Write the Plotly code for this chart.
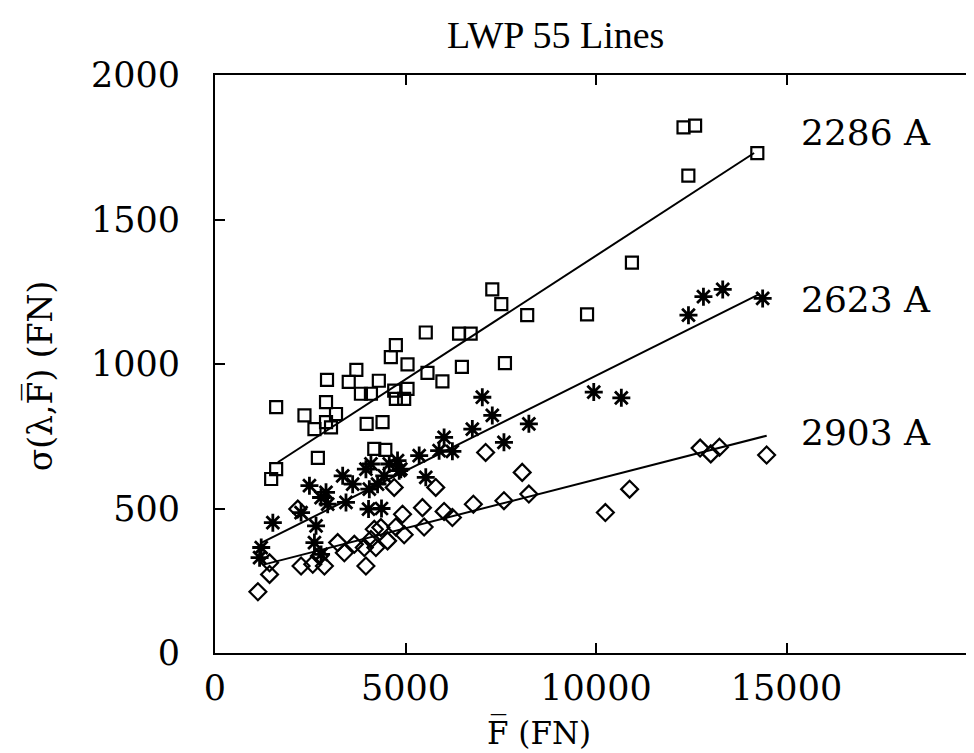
import plotly.graph_objects as go

# ---- data ----
sq_x = [1474, 1605, 1605, 2348, 2610, 2700, 2914, 2914, 3045, 3176, 2940, 3510, 3710, 3830, 4093,
        4300, 3980, 4398, 4180, 4470, 4704, 5053, 4747, 4965, 4747, 4615, 5053, 5577, 5969, 6480,
        7610, 5532, 6406, 6710, 7278, 7514, 8194, 9765, 10943, 12297, 12601, 12424, 14234]
sq_y = [602, 636, 851, 822, 775, 675, 868, 799, 781, 827, 945, 938, 980, 897, 897,
        942, 793, 799, 706, 703, 908, 914, 879, 879, 1065, 1024, 999, 969, 940, 990,
        1003, 1109, 1105, 1105, 1258, 1207, 1169, 1172, 1351, 1819, 1825, 1652, 1730]

st_x = [1213, 1170, 1518, 2259, 2479, 2652, 2610, 2784, 2784, 2914, 2958, 3351, 3438, 3613, 3961,
        4050, 4030, 4370, 4093, 4442, 4267, 4791, 4835, 5359, 5882, 6231, 5532, 6013, 6754, 7016,
        7278, 7584, 8238, 9941, 10665, 12427, 12820, 13326, 14374, 4573, 4877]
st_y = [365, 330, 451, 486, 579, 440, 382, 341, 538, 556, 515, 613, 521, 584, 636,
        567, 498, 500, 654, 613, 584, 666, 631, 683, 700, 698, 608, 746, 775, 885,
        822, 729, 793, 903, 883, 1169, 1233, 1258, 1227, 654, 636]

di_x = [1126, 1432, 1432, 2173, 2259, 2566, 2872, 2741, 3220, 3395, 3657, 3919, 3961, 4181, 4223,
        4093, 4529, 4354, 4747, 4965, 5489, 4922, 5445, 6013, 6231, 6781, 7584, 4704, 5794, 7103,
        8063, 8238, 10246, 10882, 12733, 13012, 13239, 14478]
di_y = [212, 272, 312, 498, 301, 307, 301, 336, 382, 347, 376, 365, 301, 428, 365,
        393, 388, 434, 436, 409, 436, 480, 503, 490, 469, 515, 527, 573, 573, 694,
        625, 550, 486, 567, 709, 689, 712, 685]

fit_sq_x = [1650, 14150]
fit_sq_y = [660, 1730]
fit_st_x = [1200, 14300]
fit_st_y = [380, 1243]
fit_di_x = [1250, 14480]
fit_di_y = [305, 752]

labels = ["2286 A", "2623 A", "2903 A"]
label_x = [15315, 15315, 15315]
label_y = [1800, 1222, 764]

x_ticks = [0, 5000, 10000, 15000]
y_ticks = [0, 500, 1000, 1500, 2000]

SERIF = "DejaVu Serif"
fig = go.Figure()

fig.add_trace(go.Scatter(x=sq_x, y=sq_y, mode="markers",
                         marker=dict(symbol="square-open", size=12, color="black",
                                     line=dict(width=2.2, color="black"))))
fig.add_trace(go.Scatter(x=st_x, y=st_y, mode="markers",
                         marker=dict(symbol="asterisk-open", size=15, color="black",
                                     line=dict(width=2.8, color="black"))))
fig.add_trace(go.Scatter(x=di_x, y=di_y, mode="markers",
                         marker=dict(symbol="diamond-open", size=13, color="black",
                                     line=dict(width=2.2, color="black"))))
for fx, fy in [(fit_sq_x, fit_sq_y), (fit_st_x, fit_st_y), (fit_di_x, fit_di_y)]:
    fig.add_trace(go.Scatter(x=fx, y=fy, mode="lines",
                             line=dict(color="black", width=2)))

for t, lx, ly in zip(labels, label_x, label_y):
    fig.add_annotation(x=lx, y=ly, text=t, showarrow=False, xanchor="left", yanchor="middle",
                       font=dict(family=SERIF, size=36, color="black"))

fig.add_annotation(xref="paper", yref="paper", x=0.447, y=1.069, text="LWP 55 Lines",
                   showarrow=False, xanchor="center", yanchor="middle",
                   font=dict(family="Liberation Serif", size=38, color="black"))
fig.add_annotation(xref="paper", yref="paper", x=0.425, y=-0.137, text="F\u0305 (FN)",
                   showarrow=False, xanchor="center", yanchor="middle",
                   font=dict(family=SERIF, size=31, color="black"))
fig.add_annotation(xref="paper", yref="paper", x=-0.23, y=0.48,
                   text="\u03c3(\u03bb,F\u0305) (FN)", textangle=-90,
                   showarrow=False, xanchor="center", yanchor="middle",
                   font=dict(family=SERIF, size=33, color="black"))

axis_common = dict(showgrid=False, zeroline=False, showline=True, linewidth=2, linecolor="black",
                   mirror="allticks", ticks="inside", ticklen=10, tickwidth=2, tickcolor="black",
                   tickfont=dict(family=SERIF, size=35, color="black"))
fig.update_xaxes(range=[0, 20000], tickvals=x_ticks, ticktext=[str(v) for v in x_ticks],
                 ticklabelstandoff=3, **axis_common)
fig.update_yaxes(range=[0, 2000], tickvals=y_ticks, ticktext=[str(v) for v in y_ticks],
                 ticklabelstandoff=26, **axis_common)

fig.update_layout(width=974, height=753, showlegend=False,
                  margin=dict(l=207, r=3, t=67, b=108),
                  plot_bgcolor="white", paper_bgcolor="white")

fig.write_html("out.html")
